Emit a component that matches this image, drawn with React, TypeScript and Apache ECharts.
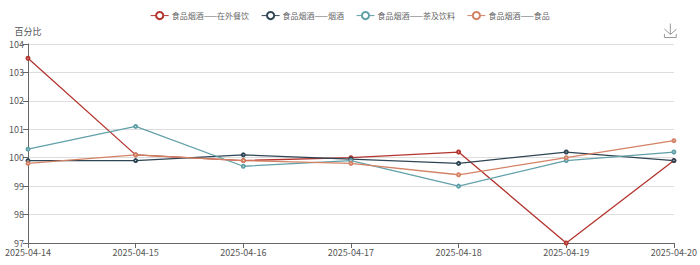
import React, { useEffect, useRef } from "react";
import * as echarts from "echarts";

const categories = ["2025-04-14", "2025-04-15", "2025-04-16", "2025-04-17", "2025-04-18", "2025-04-19", "2025-04-20"];
const seriesNames = ["食品烟酒——在外餐饮", "食品烟酒——烟酒", "食品烟酒——茶及饮料", "食品烟酒——食品"];
const dining = [103.5, 100.1, 99.9, 100.0, 100.2, 97.0, 99.9];
const tobacco = [99.9, 99.9, 100.1, 99.95, 99.8, 100.2, 99.9];
const tea = [100.3, 101.1, 99.7, 99.9, 99.0, 99.9, 100.2];
const food = [99.8, 100.1, 99.9, 99.8, 99.4, 100.0, 100.6];
const colors = ["#b3342e", "#2f4554", "#61a0a8", "#d48265"];

export default function App() {
  const ref = useRef<HTMLDivElement>(null);
  useEffect(() => {
    if (!ref.current) return;
    const chart = echarts.init(ref.current, undefined, { renderer: "svg" });
    const data = [dining, tobacco, tea, food];
    chart.setOption({
      animation: false,
      color: colors,
      textStyle: { fontFamily: "Noto Sans CJK SC, sans-serif" },
      legend: {
        top: 6,
        left: "center",
        itemWidth: 18,
        itemHeight: 9,
        itemGap: 12,
        itemStyle: { borderWidth: 1 },
        lineStyle: { width: 1 },
        textStyle: { fontSize: 8, color: "#666", padding: [0, 0, 0, -2] },
        data: seriesNames,
      },
      toolbox: {
        right: 6,
        top: 6,
        itemSize: 14,
        iconStyle: { borderColor: "#999" },
        feature: { saveAsImage: { title: "" } },
      },
      grid: { left: 28, right: 26, top: 44, bottom: 22 },
      xAxis: {
        type: "category",
        boundaryGap: false,
        data: categories,
        axisLine: { lineStyle: { color: "#666" } },
        axisTick: { show: true, alignWithLabel: true },
        axisLabel: { fontSize: 9, color: "#555", margin: 5, interval: 0 },
      },
      yAxis: {
        type: "value",
        name: "百分比",
        nameTextStyle: { fontSize: 9, color: "#555" },
        nameGap: 8,
        min: 97,
        max: 104,
        interval: 1,
        axisLine: { show: true, lineStyle: { color: "#666" } },
        axisTick: { show: true },
        axisLabel: { fontSize: 9, color: "#555", margin: 4 },
        splitLine: { lineStyle: { color: "#ddd" } },
      },
      series: seriesNames.map((name, i) => ({
        name,
        type: "line",
        data: data[i],
        symbol: "emptyCircle",
        symbolSize: 3,
        itemStyle: { borderWidth: 1 },
        lineStyle: { width: 1.3 },
      })),
    });
    return () => chart.dispose();
  }, []);
  return <div ref={ref} style={{ width: 700, height: 265, position: "absolute", left: 0, top: 0 }} />;
}
